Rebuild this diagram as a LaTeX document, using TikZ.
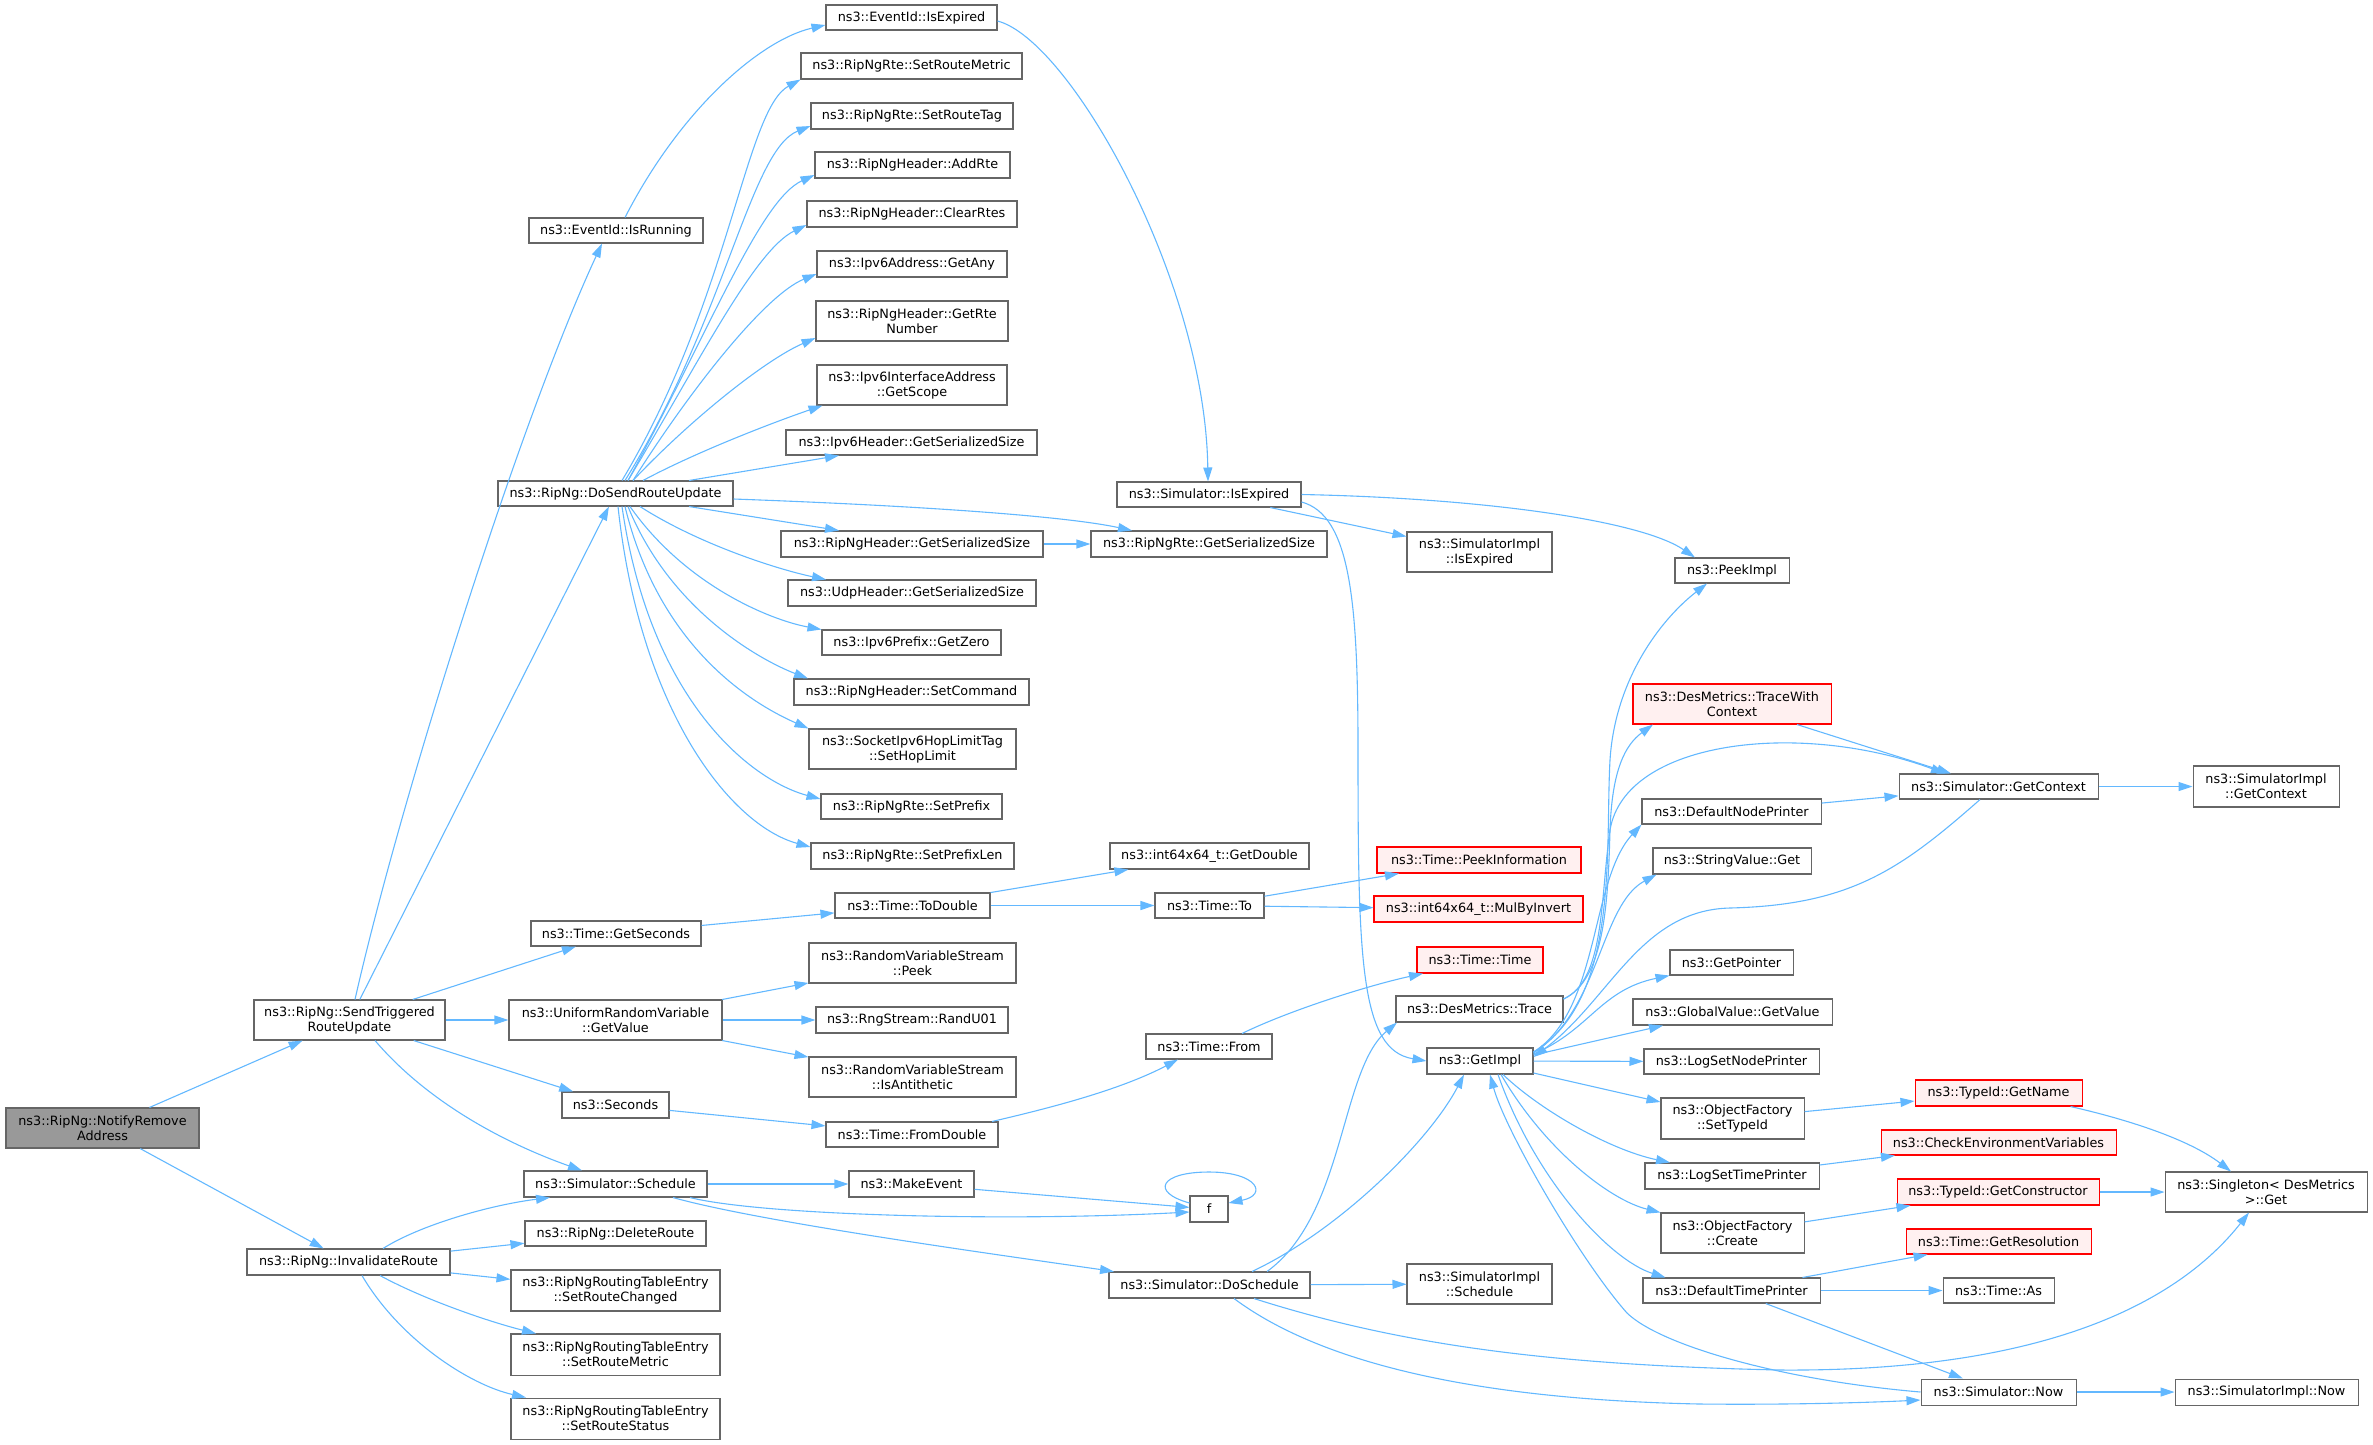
\documentclass[tikz,border=0pt]{standalone}
\usepackage{fontspec}
\setmainfont{DejaVu Sans}
\usetikzlibrary{arrows.meta,calc}
\definecolor{edgeblue}{HTML}{63B8FF}
\definecolor{boxgray}{HTML}{666666}
\definecolor{rootfill}{HTML}{999999}
\definecolor{redline}{HTML}{FF0000}
\definecolor{redfill}{HTML}{FFF0F0}
\newcommand{\gnode}[7][fn]{\node[#1, minimum width={#5-#3}, minimum height={#6-#4}] (#2) at ({(#3+#5)/2},{(#4+#6)/2}) {#7};}
\begin{document}
\begin{tikzpicture}[x=1pt,y=-1pt,
  fn/.style={draw=boxgray, line width=1.05pt, fill=white, inner sep=0pt, align=center, font=\fontsize{12.8}{15}\selectfont},
  fnred/.style={fn, draw=redline, fill=redfill},
  fnroot/.style={fn, fill=rootfill},
  callarrow/.style={draw=edgeblue, line width=1.1pt, -{Triangle[length=14pt,width=9pt]}}]
\useasboundingbox (0,0) rectangle (2373,1444);
% nodes
\gnode[fnroot]{N}{6}{1108}{199}{1148}{ns3::RipNg::NotifyRemove\\Address}
\gnode{STR}{254}{1000}{445}{1040}{ns3::RipNg::SendTriggered\\RouteUpdate}
\gnode{IR}{247}{1249}{450}{1275}{ns3::RipNg::InvalidateRoute}
\gnode{IsRun}{529}{218}{703}{243}{ns3::EventId::IsRunning}
\gnode{DSRU}{498}{481}{733}{506}{ns3::RipNg::DoSendRouteUpdate}
\gnode{GetSec}{531}{921}{701}{946}{ns3::Time::GetSeconds}
\gnode{URV}{509}{1000}{722}{1040}{ns3::UniformRandomVariable\\::GetValue}
\gnode{Sec}{562}{1092}{669}{1118}{ns3::Seconds}
\gnode{Sch}{524}{1171}{707}{1197}{ns3::Simulator::Schedule}
\gnode{DelR}{525}{1221}{706}{1246}{ns3::RipNg::DeleteRoute}
\gnode{SRC}{511}{1270}{720}{1311}{ns3::RipNgRoutingTableEntry\\::SetRouteChanged}
\gnode{SRM}{511}{1334}{720}{1375}{ns3::RipNgRoutingTableEntry\\::SetRouteMetric}
\gnode{SRS}{511}{1398}{720}{1439}{ns3::RipNgRoutingTableEntry\\::SetRouteStatus}
\gnode{EIsExp}{826}{5}{997}{30}{ns3::EventId::IsExpired}
\gnode{RteSRM}{801}{53}{1022}{79}{ns3::RipNgRte::SetRouteMetric}
\gnode{SRT}{811}{103}{1013}{129}{ns3::RipNgRte::SetRouteTag}
\gnode{AddRte}{815}{152}{1010}{178}{ns3::RipNgHeader::AddRte}
\gnode{ClearRtes}{807}{201}{1017}{227}{ns3::RipNgHeader::ClearRtes}
\gnode{GetAny}{817}{251}{1007}{277}{ns3::Ipv6Address::GetAny}
\gnode{GetRteNum}{816}{301}{1008}{341}{ns3::RipNgHeader::GetRte\\Number}
\gnode{GetScope}{817}{365}{1007}{405}{ns3::Ipv6InterfaceAddress\\::GetScope}
\gnode{IpHSz}{786}{430}{1037}{455}{ns3::Ipv6Header::GetSerializedSize}
\gnode{SimIsExp}{1117}{482}{1301}{507}{ns3::Simulator::IsExpired}
\gnode{RHSz}{781}{531}{1043}{557}{ns3::RipNgHeader::GetSerializedSize}
\gnode{RteSz}{1091}{531}{1327}{557}{ns3::RipNgRte::GetSerializedSize}
\gnode{SIIsExp}{1407}{532}{1552}{572}{ns3::SimulatorImpl\\::IsExpired}
\gnode{UdpSz}{788}{580}{1036}{606}{ns3::UdpHeader::GetSerializedSize}
\gnode{GetZero}{822}{630}{1001}{655}{ns3::Ipv6Prefix::GetZero}
\gnode{SetCmd}{794}{679}{1029}{705}{ns3::RipNgHeader::SetCommand}
\gnode{HopLim}{809}{729}{1016}{769}{ns3::SocketIpv6HopLimitTag\\::SetHopLimit}
\gnode{SetPfx}{821}{794}{1002}{819}{ns3::RipNgRte::SetPrefix}
\gnode{SetPfxLen}{811}{843}{1014}{869}{ns3::RipNgRte::SetPrefixLen}
\gnode{GetDbl}{1110}{843}{1309}{869}{ns3::int64x64\_t::GetDouble}
\gnode[fnred]{PeekInfo}{1377}{847}{1581}{873}{ns3::Time::PeekInformation}
\gnode{ToDbl}{835}{893}{990}{918}{ns3::Time::ToDouble}
\gnode{To}{1155}{893}{1264}{918}{ns3::Time::To}
\gnode[fnred]{MulBy}{1374}{896}{1583}{922}{ns3::int64x64\_t::MulByInvert}
\gnode{Peek}{809}{943}{1016}{983}{ns3::RandomVariableStream\\::Peek}
\gnode[fnred]{TTime}{1417}{947}{1543}{973}{ns3::Time::Time}
\gnode{RandU}{816}{1007}{1008}{1033}{ns3::RngStream::RandU01}
\gnode{IsAnti}{809}{1057}{1016}{1097}{ns3::RandomVariableStream\\::IsAntithetic}
\gnode{FromDbl}{826}{1122}{998}{1147}{ns3::Time::FromDouble}
\gnode{From}{1146}{1034}{1272}{1059}{ns3::Time::From}
\gnode{Trace}{1396}{996}{1563}{1022}{ns3::DesMetrics::Trace}
\gnode{GetImpl}{1427}{1048}{1533}{1074}{ns3::GetImpl}
\gnode{MakeEv}{849}{1171}{974}{1197}{ns3::MakeEvent}
\gnode{f}{1190}{1196}{1228}{1222}{f}
\gnode{DoSch}{1109}{1272}{1310}{1298}{ns3::Simulator::DoSchedule}
\gnode{SISch}{1407}{1264}{1552}{1304}{ns3::SimulatorImpl\\::Schedule}
\gnode{PeekImpl}{1675}{558}{1789}{583}{ns3::PeekImpl}
\gnode[fnred]{TWC}{1633}{684}{1831}{724}{ns3::DesMetrics::TraceWith\\Context}
\gnode{GetCtx}{1899}{774}{2098}{799}{ns3::Simulator::GetContext}
\gnode{SIGetCtx}{2193}{766}{2339}{807}{ns3::SimulatorImpl\\::GetContext}
\gnode{DNP}{1642}{799}{1821}{824}{ns3::DefaultNodePrinter}
\gnode{SVGet}{1653}{848}{1811}{874}{ns3::StringValue::Get}
\gnode{GetPtr}{1670}{950}{1793}{975}{ns3::GetPointer}
\gnode{GVGet}{1633}{999}{1832}{1025}{ns3::GlobalValue::GetValue}
\gnode{LSNP}{1644}{1049}{1819}{1074}{ns3::LogSetNodePrinter}
\gnode{OFSet}{1661}{1098}{1804}{1139}{ns3::ObjectFactory\\::SetTypeId}
\gnode[fnred]{GetName}{1915}{1080}{2082}{1106}{ns3::TypeId::GetName}
\gnode[fnred]{CEV}{1881}{1130}{2116}{1155}{ns3::CheckEnvironmentVariables}
\gnode{LSTP}{1645}{1163}{1819}{1189}{ns3::LogSetTimePrinter}
\gnode[fnred]{GetCons}{1897}{1179}{2099}{1205}{ns3::TypeId::GetConstructor}
\gnode{Single}{2165}{1172}{2367}{1212}{ns3::Singleton< DesMetrics\\>::Get}
\gnode{OFCreate}{1661}{1213}{1804}{1253}{ns3::ObjectFactory\\::Create}
\gnode[fnred]{GetRes}{1906}{1229}{2091}{1254}{ns3::Time::GetResolution}
\gnode{DTP}{1643}{1278}{1820}{1303}{ns3::DefaultTimePrinter}
\gnode{As}{1943}{1278}{2054}{1303}{ns3::Time::As}
\gnode{Now}{1921}{1379}{2076}{1405}{ns3::Simulator::Now}
\gnode{SINow}{2175}{1379}{2358}{1405}{ns3::SimulatorImpl::Now}
% straight edges
\draw[callarrow] (N) -- (STR);
\draw[callarrow] (N) -- (IR);
\draw[callarrow] (STR) -- (DSRU);
\draw[callarrow] (STR) -- (GetSec);
\draw[callarrow] (STR) -- (URV);
\draw[callarrow] (STR) -- (Sec);
\draw[callarrow] (IR) -- (DelR);
\draw[callarrow] (IR) -- (SRC);
\draw[callarrow] (RHSz) -- (RteSz);
\draw[callarrow] (SimIsExp) -- (SIIsExp);
\draw[callarrow] (GetSec) -- (ToDbl);
\draw[callarrow] (ToDbl) -- (GetDbl);
\draw[callarrow] (ToDbl) -- (To);
\draw[callarrow] (To) -- (PeekInfo);
\draw[callarrow] (To) -- (MulBy);
\draw[callarrow] (URV) -- (Peek);
\draw[callarrow] (URV) -- (RandU);
\draw[callarrow] (URV) -- (IsAnti);
\draw[callarrow] (Sec) -- (FromDbl);
\draw[callarrow] (Sch) -- (MakeEv);
\draw[callarrow] (MakeEv) -- (f);
\draw[callarrow] (DoSch) -- (SISch);
\draw[callarrow] (GetCtx) -- (SIGetCtx);
\draw[callarrow] (DNP) -- (GetCtx);
\draw[callarrow] (GetImpl) -- (LSNP);
\draw[callarrow] (DTP) -- (Now);
\draw[callarrow] (DTP) -- (GetRes);
\draw[callarrow] (DTP) -- (As);
\draw[callarrow] (OFSet) -- (GetName);
\draw[callarrow] (LSTP) -- (CEV);
\draw[callarrow] (OFCreate) -- (GetCons);
\draw[callarrow] (GetCons) -- (Single);
\draw[callarrow] (Now) -- (SINow);
% curved edges, left part
\draw[callarrow] ([xshift=5.5pt]STR.north) .. controls (400,800) and (520,420) .. ([xshift=-14pt]IsRun.south);
\draw[callarrow] ([xshift=25.5pt]STR.south) .. controls (430,1105) and (510,1145) .. ([xshift=-33.5pt]Sch.north);
\draw[callarrow] ([xshift=34.5pt]IR.north) .. controls (420,1225) and (490,1205) .. ([xshift=-65.5pt]Sch.south);
\draw[callarrow] ([xshift=31.5pt]IR.south) .. controls (425,1300) and (490,1322) .. ([xshift=-79.5pt]SRM.north);
\draw[callarrow] ([xshift=13.5pt]IR.south) .. controls (400,1340) and (470,1385) .. ([xshift=-89.5pt]SRS.north);
\draw[callarrow] ([xshift=9pt]IsRun.north) .. controls (680,110) and (760,40) .. ([yshift=-7.5pt]EIsExp.west);
\draw[callarrow] ([yshift=-3.5pt]EIsExp.east) .. controls (1070,40) and (1205,280) .. ([xshift=-1pt]SimIsExp.north);
% DoSendRouteUpdate fan
\draw[callarrow] ([xshift=6.5pt]DSRU.north) .. controls (730,300) and (745,110) .. (RteSRM.south west);
\draw[callarrow] ([xshift=9.5pt]DSRU.north) .. controls (725,320) and (750,150) .. ([yshift=-10pt]SRT.west);
\draw[callarrow] ([xshift=12.5pt]DSRU.north) .. controls (710,330) and (760,200) .. ([yshift=-10pt]AddRte.west);
\draw[callarrow] ([xshift=12.5pt]DSRU.north) .. controls (700,360) and (755,250) .. ([yshift=-11pt]ClearRtes.west);
\draw[callarrow] ([xshift=17.5pt]DSRU.north) .. controls (690,390) and (765,295) .. ([yshift=-10pt]GetAny.west);
\draw[callarrow] ([xshift=17.5pt]DSRU.north) .. controls (690,420) and (765,360) .. ([yshift=-17pt]GetRteNum.west);
\draw[callarrow] ([xshift=27.5pt]DSRU.north) .. controls (700,450) and (780,420) .. ([xshift=6pt]GetScope.south west);
\draw[callarrow] ([xshift=73.5pt]DSRU.north) -- ([xshift=-72.5pt]IpHSz.south);
\draw[callarrow] ([xshift=73.5pt]DSRU.south) -- ([xshift=-73pt]RHSz.north);
\draw[callarrow] ([yshift=-5.5pt]DSRU.east) .. controls (900,505) and (1060,515) .. ([xshift=-77pt]RteSz.north);
\draw[callarrow] ([xshift=24.5pt]DSRU.south) .. controls (700,545) and (780,570) .. ([xshift=-86pt]UdpSz.north);
\draw[callarrow] ([xshift=14.5pt]DSRU.south) .. controls (685,585) and (770,620) .. (GetZero.north west);
\draw[callarrow] ([xshift=12.5pt]DSRU.south) .. controls (670,610) and (760,660) .. ([xshift=-103.5pt]SetCmd.north);
\draw[callarrow] ([xshift=9.5pt]DSRU.south) .. controls (660,650) and (755,705) .. (HopLim.north west);
\draw[callarrow] ([xshift=6.5pt]DSRU.south) .. controls (650,700) and (750,780) .. ([yshift=7.5pt]SetPfx.west);
\draw[callarrow] ([xshift=2.5pt]DSRU.south) .. controls (640,710) and (730,825) .. ([yshift=9pt]SetPfxLen.west);
% middle part
\draw[callarrow] (SimIsExp.east) .. controls (1480,498) and (1640,520) .. ([xshift=-37pt]PeekImpl.north);
\draw[callarrow] ([yshift=-7.5pt]SimIsExp.east) .. controls (1350,515) and (1358,600) .. (1358,750) .. controls (1358,960) and (1360,1050) .. (GetImpl.west);
\draw[callarrow] ([xshift=80pt]FromDbl.north) .. controls (1050,1108) and (1120,1090) .. ([xshift=-31pt]From.south);
\draw[callarrow] ([xshift=33pt]From.north) .. controls (1290,1010) and (1370,985) .. ([xshift=-57pt]TTime.south);
\draw[callarrow] ([xshift=74.5pt]Sch.south) .. controls (760,1215) and (1000,1222) .. ([yshift=-3pt]f.west);
\draw[callarrow] ([xshift=57.5pt]Sch.south) .. controls (760,1222) and (1000,1255) .. ([xshift=-95.5pt]DoSch.north);
\draw[callarrow] ([yshift=6pt]f.west) .. controls (1150,1192) and (1160,1172) .. (1209,1172) .. controls (1258,1172) and (1268,1195) .. ([yshift=6pt]f.east);
\draw[callarrow] ([xshift=57.5pt]DoSch.north) .. controls (1345,1215) and (1340,1070) .. ([xshift=-82.5pt]Trace.south);
\draw[callarrow] ([xshift=42.5pt]DoSch.north) .. controls (1340,1230) and (1430,1140) .. ([xshift=-16pt]GetImpl.south);
\draw[callarrow] ([xshift=44.5pt]DoSch.south) .. controls (1400,1345) and (1550,1365) .. (1780,1370) .. controls (2050,1372) and (2180,1300) .. ([xshift=-17pt]Single.south);
\draw[callarrow] ([xshift=24.5pt]DoSch.south) .. controls (1330,1370) and (1500,1400) .. (1700,1404) .. controls (1800,1405) and (1880,1402) .. ([yshift=-8pt]Now.west);
% right part
\draw[callarrow] ([yshift=10pt]Trace.east) .. controls (1605,980) and (1608,900) .. (1610,830) .. controls (1612,770) and (1625,745) .. ([xshift=-79pt]TWC.south);
\draw[callarrow] ([yshift=10pt]Trace.east) .. controls (1605,980) and (1600,900) .. (1610,830) .. controls (1625,740) and (1800,720) .. ([xshift=-53.5pt]GetCtx.north);
\draw[callarrow] ([xshift=65pt]TWC.south) -- ([xshift=-47.5pt]GetCtx.north);
\draw[callarrow] ([yshift=9pt]GetImpl.east) .. controls (1620,1000) and (1605,850) .. (1610,760) .. controls (1615,680) and (1660,620) .. ([xshift=-25pt]PeekImpl.south);
\draw[callarrow] ([yshift=9pt]GetImpl.east) .. controls (1600,1010) and (1590,880) .. (DNP.south west);
\draw[callarrow] ([yshift=8pt]GetImpl.east) .. controls (1600,1010) and (1600,905) .. ([xshift=4pt]SVGet.south west);
\draw[callarrow] ([yshift=7pt]GetImpl.east) .. controls (1590,1030) and (1600,990) .. (GetPtr.south west);
\draw[callarrow] ([yshift=6pt]GetImpl.east) -- ([xshift=-69.5pt]GVGet.south);
\draw[callarrow] ([yshift=-12pt]GetImpl.east) -- ([yshift=16.5pt]OFSet.west);
\draw[callarrow] ([xshift=23pt]GetImpl.south) .. controls (1540,1110) and (1610,1150) .. ([xshift=-62pt]LSTP.north);
\draw[callarrow] ([xshift=21pt]GetImpl.south) .. controls (1545,1150) and (1610,1200) .. (OFCreate.north west);
\draw[callarrow] ([xshift=18pt]GetImpl.south) .. controls (1535,1180) and (1610,1260) .. ([xshift=-66pt]DTP.north);
\draw[callarrow] (Now.west) .. controls (1780,1380) and (1660,1345) .. (1627,1313) .. controls (1580,1260) and (1505,1130) .. ([xshift=10pt]GetImpl.south);
\draw[callarrow] ([xshift=-18.5pt]GetCtx.south) .. controls (1900,870) and (1850,905) .. (1730,908) .. controls (1640,910) and (1610,1000) .. ([yshift=4pt]GetImpl.east);
\draw[callarrow] ([xshift=-12pt]GetName.south east) .. controls (2130,1120) and (2190,1140) .. ([xshift=-35pt]Single.north);
\end{tikzpicture}
\end{document}
